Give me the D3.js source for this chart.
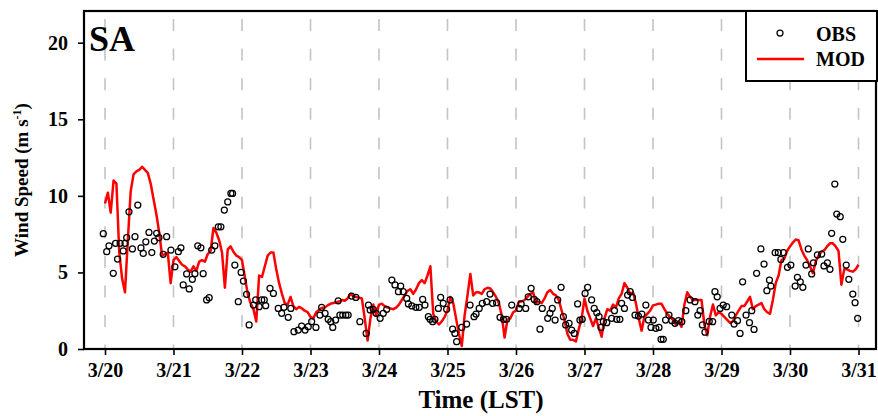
<!DOCTYPE html>
<html>
<head>
<meta charset="utf-8">
<script src="https://cdn.jsdelivr.net/npm/d3@7"></script>
<style>
  html, body { margin: 0; padding: 0; background: #fff; }
  svg { display: block; }
  text { font-family: "Liberation Serif", "Times New Roman", serif; font-weight: bold; fill: #000; }
</style>
</head>
<body>
<svg id="chart" width="878" height="416"></svg>
<script>
// Hourly wind speed at station SA, 3/20 00 LST to 3/31 00 LST
const dayLabels = ["3/20", "3/21", "3/22", "3/23", "3/24", "3/25", "3/26", "3/27", "3/28", "3/29", "3/30", "3/31"];
const speedTicks = [0, 5, 10, 15, 20];

// Model (MOD) wind speed, one value per hour starting 3/20 00 LST (m/s)
const modSpeed = [
  9.5, 10.2, 8.9, 11.0, 10.8, 6.3, 4.6, 3.7, 7.1, 10.3, 11.4, 11.6, 11.7, 11.9, 11.7, 11.5, 10.8, 9.8, 8.8, 7.6, 6.1, 6.2, 6.3, 4.3,
  5.8, 6.0, 5.75, 5.5, 5.4, 5.2, 5.05, 5.4, 5.1, 5.7, 5.8, 5.7, 6.2, 6.4, 7.9, 7.6, 7.1, 6.3, 4.0, 6.5, 6.7, 6.35, 6.1, 6.0,
  5.8, 4.7, 3.6, 3.0, 2.6, 1.8, 4.8, 4.7, 5.4, 6.1, 6.3, 6.3, 5.2, 4.3, 3.6, 3.0, 2.9, 3.4, 2.8, 2.6, 2.75, 2.65, 2.5, 2.4,
  2.1, 2.0, 2.4, 2.55, 2.7, 2.7, 2.85, 2.95, 3.0, 3.05, 3.1, 3.2, 3.15, 3.3, 3.6, 3.45, 3.4, 3.35, 3.3, 2.0, 0.55, 2.0, 2.9, 2.2,
  2.9, 2.95, 2.8, 2.7, 2.65, 2.6, 2.7, 2.9, 3.2, 3.5, 3.8, 3.9, 3.6, 3.9, 4.3, 4.5, 4.3, 4.8, 5.4, 2.3, 1.8, 1.6, 1.8, 2.1,
  2.5, 3.4, 3.0, 2.0, 1.0, 0.2, 2.2, 3.5, 4.9, 3.5, 3.7, 3.7, 3.6, 3.9, 4.0, 3.95, 3.7, 3.4, 3.0, 2.2, 0.75, 1.9, 2.0, 2.4,
  2.5, 3.1, 3.1, 3.2, 3.4, 3.6, 3.7, 3.0, 3.1, 3.0, 3.3, 3.7, 3.85, 3.6, 3.5, 3.2, 2.5, 1.9, 1.0, 0.6, 0.6, 0.5, 1.3, 2.0,
  3.3, 2.5, 2.0, 1.5, 2.0, 1.4, 0.8, 2.0, 2.6, 2.5, 2.9, 2.7, 3.3, 3.6, 4.3, 4.0, 3.6, 3.7, 3.0, 2.0, 1.2, 2.1, 2.3, 2.5,
  2.85, 2.9, 2.95, 2.95, 2.6, 2.3, 2.1, 1.9, 1.6, 1.8, 1.45, 2.9, 3.7, 3.4, 3.2, 3.2, 3.2, 3.2, 1.6, 0.9, 2.1, 2.9, 2.2, 2.4,
  2.3, 2.1, 1.9, 1.7, 1.8, 2.2, 2.5, 2.8, 2.8, 3.1, 3.4, 2.6, 2.8, 2.9, 3.0, 2.6, 2.4, 2.3, 3.2, 4.3, 4.8, 5.8, 5.9, 6.4,
  6.7, 6.95, 7.15, 7.1, 6.5, 6.1, 5.8, 5.4, 4.95, 5.7, 6.1, 6.35, 6.45, 6.7, 6.9, 6.9, 6.7, 6.4, 4.2, 5.2, 5.2, 5.1, 5.05, 5.2, 5.5
];

// Observed (OBS) wind speed: hours after 3/20 00 LST and value (m/s)
const obsHour = [
  -0.6, 0.6, 1.4, 2.9, 3.7, 4.4, 5.3, 6.4, 7.0, 7.6, 8.4, 9.6, 10.5, 11.5, 12.6, 13.4, 14.3, 15.4, 16.4, 17.3,
  18.1, 18.9, 20.4, 21.6, 23.1, 24.5, 25.7, 26.6, 27.4, 28.6, 29.5, 30.6, 31.5, 32.5, 33.6, 34.4, 35.6, 36.5, 37.4, 38.5,
  39.7, 40.6, 41.8, 43.0, 44.1, 44.7, 45.5, 46.7, 47.7, 48.5, 49.6, 50.5, 52.0, 52.8, 54.0, 54.9, 55.8, 56.3,
  57.8, 59.0, 60.7, 61.9, 62.7, 64.2, 65.1, 66.2, 67.7, 68.9, 70.1, 71.2, 72.4, 73.9, 75.3, 75.9, 77.1, 78.2, 79.1, 79.8,
  80.8, 81.7, 82.3, 83.3, 84.4, 85.2, 86.4, 87.9, 89.3, 91.5, 92.3, 92.9, 94.0, 95.0, 96.4, 97.5, 98.7, 100.5, 101.6, 102.8,
  103.6, 104.5, 105.7, 106.3, 107.5, 108.9, 110.1, 111.3, 112.1, 113.3, 113.9, 114.8, 115.6, 116.8, 117.6, 118.5, 119.7, 120.9, 121.8, 122.6,
  123.2, 125.0, 126.7, 127.9, 129.3, 130.0, 131.1, 132.2, 133.7, 134.9, 135.8, 137.2, 138.4, 139.6, 140.7,
  142.5, 145.1, 145.8, 147.4, 148.3, 149.3, 150.4, 151.3, 152.4, 153.2, 155.1, 155.9, 156.7, 157.7, 158.6, 159.8, 160.6, 161.4, 162.6, 163.5,
  164.4, 165.6, 166.4, 167.2, 168.2, 169.1, 170.5, 171.4, 172.3, 173.1, 173.8, 174.6, 175.8, 177.5, 178.5, 179.3, 180.4, 181.0, 182.0, 183.1,
  184.0, 184.8, 185.7, 186.9, 188.1, 189.5, 190.4, 191.3, 192.1, 193.0, 194.1, 194.8, 195.6, 196.4, 197.6, 198.6, 199.7, 200.9, 202.1, 203.5,
  205.0, 206.7, 207.7, 208.5, 209.3, 210.2, 211.7, 212.9,
  213.7, 214.5, 215.5, 216.6, 217.8, 219.6, 220.4, 221.6, 222.5, 223.4, 224.6, 225.8, 226.6, 227.4, 228.3, 229.8, 230.9, 231.9, 232.8, 233.3,
  234.8, 235.9, 236.8, 237.7, 239.1, 240.3, 241.8, 242.6, 243.6, 244.5, 245.6, 246.4, 247.6, 248.2, 249.6, 251.1, 251.9, 253.1, 254.0, 254.6,
  255.7, 256.4, 257.6, 258.5, 259.7, 260.6, 262.0, 262.8, 263.7
];
const obsSpeed = [
  7.53, 6.35, 6.74, 4.94, 6.9, 5.87, 6.9, 6.4, 6.9, 7.27, 8.96, 6.53, 7.33, 9.4, 6.6, 6.24, 7.0, 7.61, 6.3, 7.05,
  7.55, 7.27, 6.18, 7.33, 6.46, 5.37, 6.35, 6.61, 4.18, 4.9, 3.92, 4.55, 4.92, 6.74, 6.61, 4.92, 3.2, 3.35, 6.46, 6.74,
  7.98, 7.98, 9.07, 9.6, 10.16, 10.16, 5.48, 3.09, 5.0, 4.44, 3.57, 1.57, 2.87, 3.2, 2.76, 3.2, 3.2, 2.83,
  3.96, 3.63, 2.65, 2.33, 2.72, 2.07, 2.65, 1.13, 1.24, 1.5, 1.24, 1.46, 1.78, 1.41, 2.22, 2.72, 2.33, 1.94, 1.78, 1.41,
  1.89, 3.15, 2.22, 2.22, 2.22, 2.22, 3.46, 3.37, 1.78, 1.02, 2.87, 2.55, 2.59, 2.33, 2.0, 2.33, 2.59, 4.5, 4.18, 3.74,
  4.11, 3.74, 3.3, 2.94, 2.81, 2.72, 2.72, 3.24, 2.87, 2.11, 1.94, 1.78, 1.94, 2.65, 3.37, 2.98, 2.59, 3.2, 1.29, 1.02,
  0.48, 1.41, 1.63, 2.87, 2.11, 2.28, 2.65, 2.98, 3.09, 3.59, 2.98, 3.02, 2.07, 1.94, 1.94,
  2.87, 2.65, 2.94, 2.65, 3.41, 3.96, 3.24, 3.09, 1.29, 2.65, 2.0, 2.33, 2.65, 1.89, 3.2, 4.03, 2.11, 1.57, 1.68, 1.24,
  1.02, 2.94, 1.89, 1.94, 3.63, 4.03, 3.2, 2.65, 2.37, 2.11, 1.41, 1.78, 1.72, 2.0, 2.5, 1.94, 1.94, 2.98, 2.65, 3.52,
  3.74, 3.37, 2.22, 2.15, 2.28, 2.87, 1.89, 1.41, 1.89, 1.35, 1.41, 0.63, 0.63, 1.89, 2.22, 1.85, 1.68, 1.85, 1.78, 2.5,
  3.2, 3.09, 2.22, 2.5, 1.57, 1.1, 1.8, 1.78,
  3.74, 3.41, 2.65, 2.87, 2.76, 2.22, 1.63, 1.85, 1.02, 4.39, 2.22, 1.72, 2.5, 1.28, 4.94, 6.53, 5.55, 3.81, 4.5, 4.11,
  6.29, 6.29, 5.85, 6.29, 5.33, 5.48, 4.11, 4.68, 4.39, 4.03, 5.48, 6.53, 4.9, 5.63, 6.14, 6.2, 5.42, 5.63, 5.2, 7.55,
  10.77, 8.81, 8.64, 7.16, 5.48, 4.55, 3.59, 3.02, 2.0
];

const svg = d3.select("#chart");

// Frame of the plotting panel
const frame = { left: 84, top: 11, right: 876, bottom: 349 };

const x = d3.scaleLinear().domain([0, 264]).range([105, 858.5]);
const y = d3.scaleLinear().domain([0, 20]).range([349, 42.7]);

const dayHours = dayLabels.map((d, i) => i * 24);

// Dashed vertical day separators
svg.append("g")
  .selectAll("line")
  .data(dayHours)
  .join("line")
  .attr("x1", d => x(d)).attr("x2", d => x(d))
  .attr("y1", 19).attr("y2", frame.bottom)
  .attr("stroke", "#c4c4c4")
  .attr("stroke-width", 1.6)
  .attr("stroke-dasharray", "12,17.6");

// Model line
const line = d3.line()
  .x((d, i) => x(i))
  .y(d => y(d));

svg.append("path")
  .datum(modSpeed)
  .attr("d", line)
  .attr("fill", "none")
  .attr("stroke", "#ff0000")
  .attr("stroke-width", 2.5)
  .attr("stroke-linejoin", "round");

// Observation markers
const obs = obsHour.map((h, i) => ({ h, v: obsSpeed[i] }));
svg.append("g")
  .selectAll("circle")
  .data(obs)
  .join("circle")
  .attr("cx", d => x(d.h))
  .attr("cy", d => y(d.v))
  .attr("r", 3.0)
  .attr("fill", "none")
  .attr("stroke", "#000")
  .attr("stroke-width", 1.25);

// Axes
const xAxis = d3.axisBottom(x)
  .tickValues(dayHours)
  .tickFormat((d, i) => dayLabels[i])
  .tickSize(6)
  .tickPadding(4);

const gx = svg.append("g")
  .attr("transform", `translate(0,${frame.bottom})`)
  .call(xAxis);
gx.select(".domain").remove();
gx.selectAll("line").attr("stroke", "#000").attr("stroke-width", 1.6);
gx.selectAll("text")
  .attr("font-size", 20)
  .attr("dy", "0.9em")
  .style("font-family", "'Liberation Serif', serif")
  .style("font-weight", "bold");

const yAxis = d3.axisLeft(y)
  .tickValues(speedTicks)
  .tickSize(6)
  .tickPadding(10);

const gy = svg.append("g")
  .attr("transform", `translate(${frame.left},0)`)
  .call(yAxis);
gy.select(".domain").remove();
gy.selectAll("line").attr("stroke", "#000").attr("stroke-width", 1.6);
gy.selectAll("text")
  .attr("font-size", 20)
  .style("font-family", "'Liberation Serif', serif")
  .style("font-weight", "bold");

// Panel border
svg.append("rect")
  .attr("x", frame.left).attr("y", frame.top)
  .attr("width", frame.right - frame.left)
  .attr("height", frame.bottom - frame.top)
  .attr("fill", "none")
  .attr("stroke", "#000")
  .attr("stroke-width", 2.2);

// Station label
svg.append("text")
  .attr("x", 89).attr("y", 51)
  .attr("font-size", 36)
  .text("SA");

// Legend
const lg = svg.append("g");
lg.append("rect")
  .attr("x", 746).attr("y", frame.top)
  .attr("width", 131).attr("height", 70)
  .attr("fill", "#fff")
  .attr("stroke", "#000")
  .attr("stroke-width", 2);
lg.append("circle")
  .attr("cx", 780).attr("cy", 33).attr("r", 3.0)
  .attr("fill", "none").attr("stroke", "#000").attr("stroke-width", 1.25);
lg.append("text")
  .attr("x", 816).attr("y", 41)
  .attr("font-size", 20)
  .text("OBS");
lg.append("line")
  .attr("x1", 757).attr("x2", 804)
  .attr("y1", 59).attr("y2", 59)
  .attr("stroke", "#ff0000").attr("stroke-width", 2.5);
lg.append("text")
  .attr("x", 816).attr("y", 66)
  .attr("font-size", 20)
  .text("MOD");

// Axis titles
const yTitle = svg.append("text")
  .attr("transform", "translate(28,180) rotate(-90)")
  .attr("text-anchor", "middle")
  .attr("font-size", 19);
yTitle.append("tspan").text("Wind Speed (m s");
yTitle.append("tspan").attr("font-size", 12).attr("dy", -7).text("-1");
yTitle.append("tspan").attr("dy", 7).text(")");

svg.append("text")
  .attr("x", 481).attr("y", 408)
  .attr("text-anchor", "middle")
  .attr("font-size", 25)
  .text("Time (LST)");
</script>
</body>
</html>
